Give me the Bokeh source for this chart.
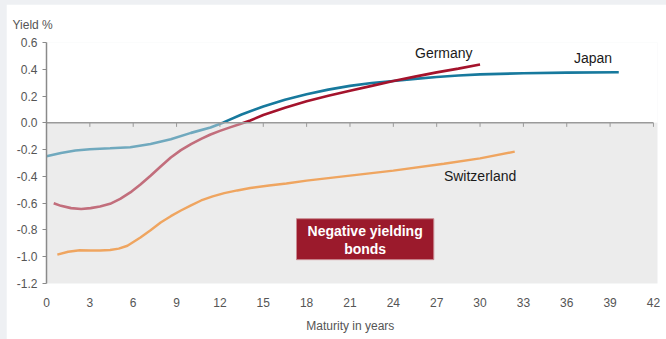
from bokeh.plotting import figure
from bokeh.layouts import column
from bokeh.models import Range1d, Label, FixedTicker, Title, CustomJSTickFormatter
from bokeh.embed import file_html
from bokeh.resources import INLINE

FONT = "Liberation Sans"

# ---- data ----
japan_x = [0, 1, 2, 3, 4.4, 5.8, 7.2, 8.6, 10.0, 11.35, 12.25, 13.5, 15, 16.5, 18, 19.5, 21, 22.5, 24, 25.5, 27, 28.5, 30, 33, 36, 39.6]
japan_y = [-0.25, -0.225, -0.207, -0.197, -0.19, -0.182, -0.158, -0.122, -0.075, -0.035, 0.003, 0.062, 0.122, 0.172, 0.213, 0.248, 0.276, 0.297, 0.313, 0.328, 0.342, 0.353, 0.362, 0.370, 0.375, 0.378]

germany_x = [0.5, 1, 1.7, 2.4, 3.05, 3.7, 4.4, 5.1, 5.8, 6.5, 7.2, 7.9, 8.6, 9.3, 10.0, 10.7, 11.35, 12.0, 12.7, 13.4, 14.1, 15, 16.5, 18, 19.5, 21, 22.5, 24, 25.5, 27, 28.5, 30]
germany_y = [-0.60, -0.62, -0.637, -0.643, -0.637, -0.625, -0.605, -0.568, -0.52, -0.46, -0.395, -0.326, -0.259, -0.204, -0.159, -0.12, -0.087, -0.06, -0.034, -0.008, 0.018, 0.058, 0.113, 0.162, 0.202, 0.239, 0.276, 0.313, 0.345, 0.377, 0.405, 0.435]

swiss_x = [0.75, 1.5, 2.3, 3.05, 3.7, 4.4, 5.0, 5.6, 6.5, 7.2, 7.9, 8.6, 9.3, 10.0, 10.7, 11.5, 12.3, 13.2, 14.1, 15.4, 16.6, 18, 21, 24, 27.5, 30, 32.4]
swiss_y = [-0.985, -0.963, -0.952, -0.953, -0.953, -0.95, -0.94, -0.918, -0.856, -0.802, -0.744, -0.697, -0.655, -0.616, -0.58, -0.55, -0.525, -0.505, -0.487, -0.468, -0.453, -0.432, -0.394, -0.357, -0.306, -0.265, -0.215]

x_ticks = [0, 3, 6, 9, 12, 15, 18, 21, 24, 27, 30, 33, 36, 39, 42]
y_ticks = [-1.2, -1.0, -0.8, -0.6, -0.4, -0.2, 0.0, 0.2, 0.4, 0.6]

x_end = 42.28
y_start, y_end = -1.2, 0.6

p = figure(width=660, height=335, output_backend="svg", toolbar_location=None,
           x_range=Range1d(0, x_end), y_range=Range1d(y_start, y_end),
           min_border_left=40, min_border_right=9, min_border_top=38, min_border_bottom=56)
p.outline_line_color = None
p.xgrid.visible = False
p.ygrid.visible = False
p.background_fill_color = "white"
p.border_fill_color = "white"

p.add_layout(Title(text="Yield %", align="left", offset=-34, standoff=21, text_font=FONT,
                   text_font_size="12px", text_font_style="normal", text_color="#555555"), "above")

# shaded negative region
p.quad(left=0, right=x_end, bottom=y_start, top=0, fill_color="#ececec", line_color=None, level="underlay")

# lines
p.line(japan_x, japan_y, line_color="#17799d", line_width=2.6)
p.line(germany_x, germany_y, line_color="#a4132c", line_width=2.6)

# translucent overlay fading what lies below zero
p.quad(left=0, right=x_end, bottom=y_start, top=0, fill_color="#ececec", fill_alpha=0.42, line_color=None)

p.line(swiss_x, swiss_y, line_color="#efa560", line_width=2.4)

# zero line with downward ticks
p.segment(x0=[0], y0=[0], x1=[x_ticks[-1]], y1=[0], line_color="#9a9a9a", line_width=1.5)
p.segment(x0=x_ticks, y0=[0] * len(x_ticks), x1=x_ticks, y1=[-0.03] * len(x_ticks),
          line_color="#9a9a9a", line_width=1)

# axes
p.yaxis.ticker = FixedTicker(ticks=y_ticks)
p.yaxis.formatter = CustomJSTickFormatter(code="return tick.toFixed(1);")
p.yaxis.axis_line_color = "#8a8a8a"
p.yaxis.axis_line_width = 1.5
p.yaxis.major_tick_line_color = "#8a8a8a"
p.yaxis.major_tick_out = 4
p.yaxis.major_tick_in = 0
p.yaxis.minor_tick_line_color = None
p.yaxis.major_label_text_font = FONT
p.yaxis.major_label_text_font_size = "12px"
p.yaxis.major_label_text_color = "#555555"
p.yaxis.major_label_standoff = 5

p.xaxis.ticker = FixedTicker(ticks=x_ticks)
p.xaxis.axis_line_color = None
p.xaxis.major_tick_line_color = None
p.xaxis.minor_tick_line_color = None
p.xaxis.major_label_text_font = FONT
p.xaxis.major_label_text_font_size = "12px"
p.xaxis.major_label_text_color = "#555555"
p.xaxis.major_label_standoff = 8
p.xaxis.axis_label = "Maturity  in years"
p.xaxis.axis_label_text_font = FONT
p.xaxis.axis_label_text_font_size = "12px"
p.xaxis.axis_label_text_font_style = "normal"
p.xaxis.axis_label_text_color = "#555555"
p.xaxis.axis_label_standoff = 9

# annotations
p.add_layout(Label(x=25.5, y=0.52, text="Germany", text_font=FONT, text_font_size="14px",
                   text_color="#1a1a1a", text_baseline="middle"))
p.add_layout(Label(x=36.5, y=0.485, text="Japan", text_font=FONT, text_font_size="14px",
                   text_color="#1a1a1a", text_baseline="middle"))
p.add_layout(Label(x=27.5, y=-0.395, text="Switzerland", text_font=FONT, text_font_size="14px",
                   text_color="#1a1a1a", text_baseline="middle"))

box_left, box_right, box_bottom, box_top = 17.3, 26.8, -1.022, -0.716
p.quad(left=box_left, right=box_right, bottom=box_bottom, top=box_top,
       fill_color="#9b1a2c", line_color="#c98a92", line_width=1)
cx = (box_left + box_right) / 2
p.add_layout(Label(x=cx, y=-0.806, text="Negative yielding", text_font=FONT, text_font_size="14px",
                   text_font_style="bold", text_color="white", text_align="center", text_baseline="middle"))
p.add_layout(Label(x=cx, y=-0.94, text="bonds", text_font=FONT, text_font_size="14px",
                   text_font_style="bold", text_color="white", text_align="center", text_baseline="middle"))

page = column(p, styles={"padding-left": "6px", "padding-top": "4px", "background-color": "#eef0f3"})

open("out.html", "w").write(file_html(page, INLINE))
